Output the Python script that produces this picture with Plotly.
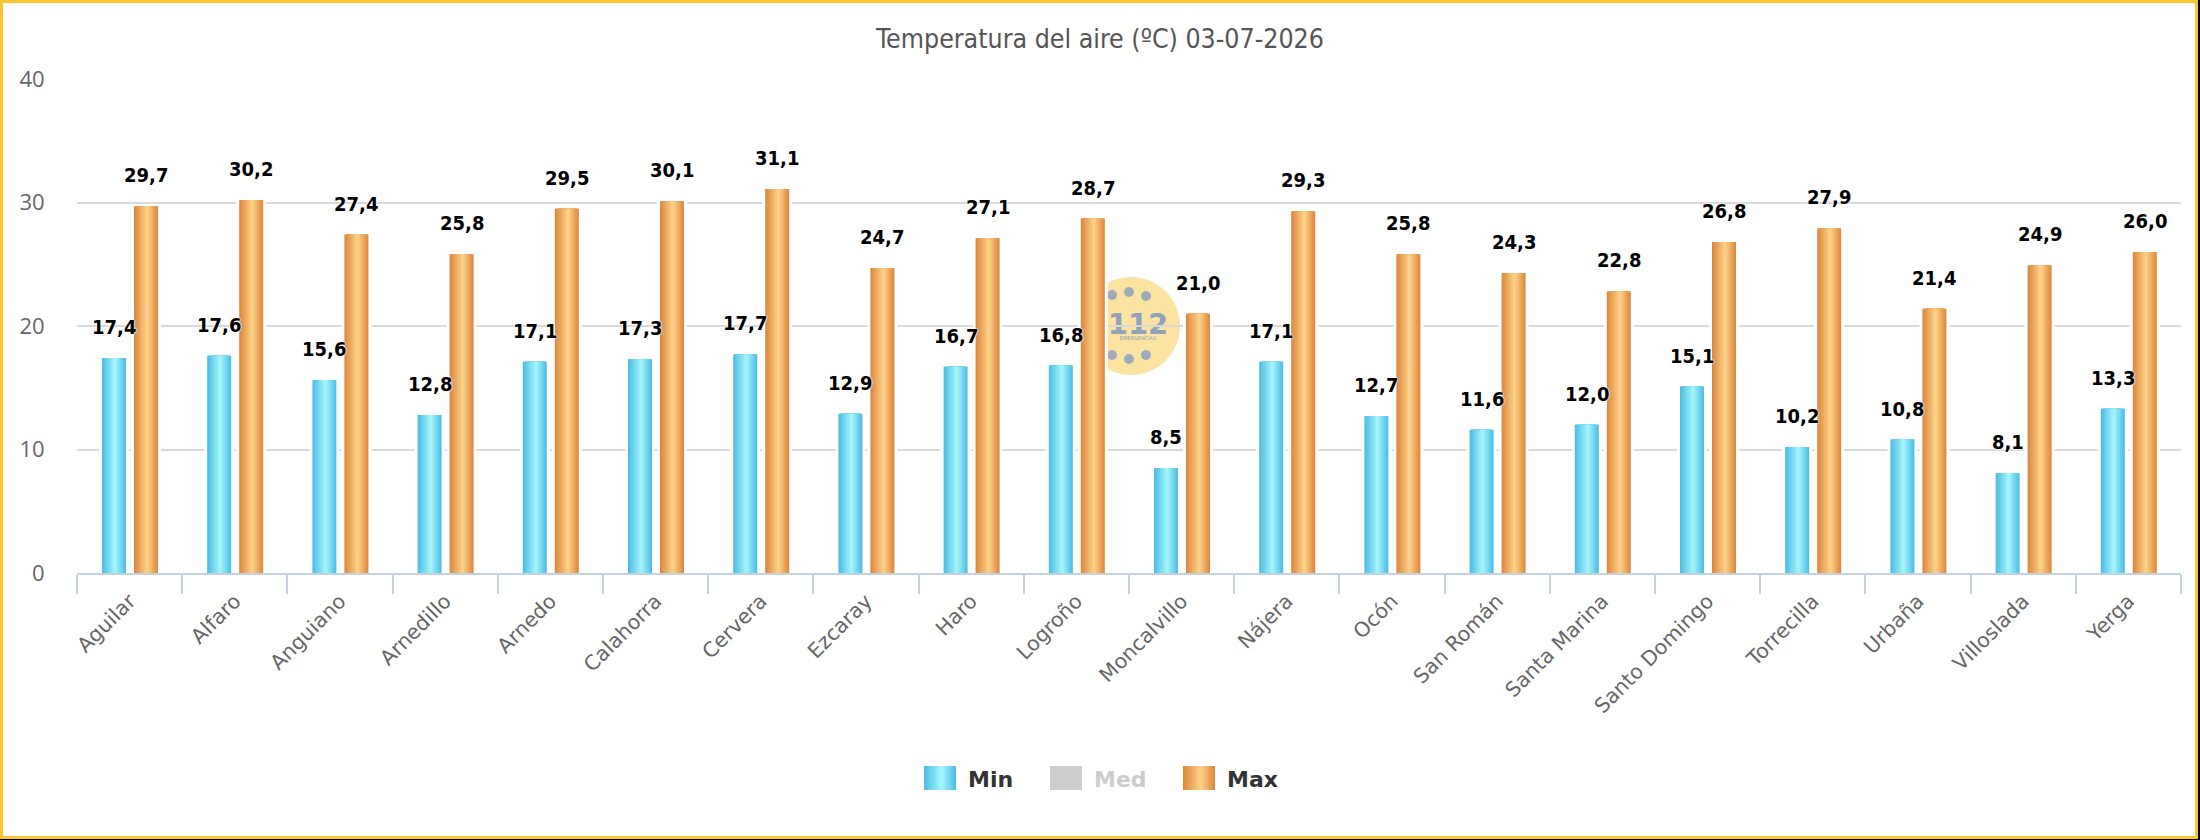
import base64
import plotly.graph_objects as go

# ---------------- data ----------------
categories = ["Aguilar", "Alfaro", "Anguiano", "Arnedillo", "Arnedo", "Calahorra",
              "Cervera", "Ezcaray", "Haro", "Logroño", "Moncalvillo", "Nájera",
              "Ocón", "San Román", "Santa Marina", "Santo Domingo", "Torrecilla",
              "Urbaña", "Villoslada", "Yerga"]
temp_min = [17.4, 17.6, 15.6, 12.8, 17.1, 17.3, 17.7, 12.9, 16.7, 16.8,
            8.5, 17.1, 12.7, 11.6, 12.0, 15.1, 10.2, 10.8, 8.1, 13.3]
temp_max = [29.7, 30.2, 27.4, 25.8, 29.5, 30.1, 31.1, 24.7, 27.1, 28.7,
            21.0, 29.3, 25.8, 24.3, 22.8, 26.8, 27.9, 21.4, 24.9, 26.0]
y_ticks = [0, 10, 20, 30, 40]
series_names = ["Min", "Med", "Max"]
title_text = "Temperatura del aire (ºC) 03-07-2026"

# ---------------- geometry / style ----------------
W, H = 2200, 840
ML, MR, MT, MB = 77, 19, 78, 267
PW, PH = W - ML - MR, H - MT - MB
CAT_PX = PW / len(categories)

MIN_EDGE, MIN_LIGHT = (76, 190, 228), (170, 248, 252)
MAX_EDGE, MAX_LIGHT = (222, 136, 62), (254, 214, 140)
MED_GREY = "#cccccc"


def px_x(px):
    return (px - ML) / PW


def px_y(py):
    return (H - MB - py) / PH


def mix(c1, c2, f):
    return "rgb(%d,%d,%d)" % tuple(round(a + (b - a) * f) for a, b in zip(c1, c2))


BAR_W = 24 / CAT_PX
OFF_MIN = -27.6 / CAT_PX
OFF_MAX = 4.4 / CAT_PX
PEAK = 0.55
NLAYER = 14

fig = go.Figure()


def add_series(values, offset, edge, light):
    halo = 3 / CAT_PX
    fig.add_trace(go.Bar(x=categories, y=values, offset=offset - halo, width=BAR_W + 2 * halo,
                         marker=dict(color="white", line=dict(width=0)),
                         hoverinfo="skip", showlegend=False))
    for k in range(NLAYER):
        f = k / NLAYER
        left = offset + PEAK * BAR_W * f
        width = BAR_W * (1 - f)
        fig.add_trace(go.Bar(x=categories, y=values, offset=left, width=width,
                             marker=dict(color=mix(edge, light, f), line=dict(width=0)),
                             hoverinfo="skip", showlegend=False))


add_series(temp_min, OFF_MIN, MIN_EDGE, MIN_LIGHT)
add_series(temp_max, OFF_MAX, MAX_EDGE, MAX_LIGHT)

# data labels
label_font = dict(family="DejaVu Sans Condensed, DejaVu Sans", size=20, color="#000000",
                  weight="bold",
                  shadow="0 0 2px #fff, 0 0 2px #fff, 0 0 2px #fff")
annotations = []
for cat, vmin, vmax in zip(categories, temp_min, temp_max):
    for v, shift in ((vmin, (OFF_MIN + BAR_W / 2) * CAT_PX), (vmax, (OFF_MAX + BAR_W / 2) * CAT_PX)):
        annotations.append(dict(x=cat, y=v, xref="x", yref="y", text=f"{v:.1f}".replace(".", ","),
                                showarrow=False, xshift=shift, yshift=17, yanchor="bottom",
                                xanchor="center", font=label_font))

# ---------------- legend (manual) ----------------
shapes = []
legend_items = [
    ("Min", 924, MIN_EDGE, MIN_LIGHT, "#333333"),
    ("Med", 1050, None, None, "#cccccc"),
    ("Max", 1183, MAX_EDGE, MAX_LIGHT, "#333333"),
]
for name, x0, edge, light, tcol in legend_items:
    y0, y1 = 766, 790
    if edge is None:
        shapes.append(dict(type="rect", xref="paper", yref="paper", x0=px_x(x0), x1=px_x(x0 + 32),
                           y0=px_y(y1), y1=px_y(y0), fillcolor=MED_GREY, line=dict(width=0)))
    else:
        for k in range(NLAYER):
            f = k / NLAYER
            l = x0 + PEAK * 32 * f
            r = l + 32 * (1 - f)
            shapes.append(dict(type="rect", xref="paper", yref="paper", x0=px_x(l), x1=px_x(r),
                               y0=px_y(y1), y1=px_y(y0), fillcolor=mix(edge, light, f),
                               line=dict(width=0)))
    annotations.append(dict(xref="paper", yref="paper", x=px_x(x0 + 42), y=px_y(779), text=name,
                            showarrow=False, xanchor="left", yanchor="middle",
                            font=dict(family="DejaVu Sans", size=22, color=tcol, weight="bold")))

# ---------------- frame ----------------
YEL = "#fbc530"
for (a, b, c, d, col) in [
    (0, 0, 3, 839, YEL), (0, 0, 2198, 3, YEL), (2195, 0, 2198, 839, YEL), (0, 836, 2198, 839, YEL),
    (2198, 0, 2200, 840, "#000000"), (0, 839, 2200, 840, "#000000")]:
    shapes.append(dict(type="rect", xref="paper", yref="paper", x0=px_x(a), x1=px_x(c),
                       y0=px_y(d), y1=px_y(b), fillcolor=col, line=dict(width=0), layer="above"))

# ---------------- watermark (112 logo) ----------------
svg = """<svg xmlns='http://www.w3.org/2000/svg' width='98' height='98' viewBox='0 0 98 98'>
<circle cx='49' cy='49' r='49' fill='#fce3a2'/>
<g fill='#9dabbb'>
<circle cx='30' cy='18' r='5'/><circle cx='47' cy='15' r='5'/><circle cx='64' cy='19' r='5'/>
<circle cx='30' cy='78' r='5'/><circle cx='47' cy='82' r='5'/><circle cx='64' cy='78' r='5'/>
</g>
<text x='56' y='57' text-anchor='middle' font-family='DejaVu Sans' font-weight='bold' font-size='29' fill='#8fa2b7'>112</text>
<text x='56' y='63' text-anchor='middle' font-family='DejaVu Sans' font-size='5' fill='#8fa2b7'>EMERGENCIAS</text>
</svg>"""
svg_uri = "data:image/svg+xml;base64," + base64.b64encode(svg.encode("utf-8")).decode("ascii")
images = [dict(source=svg_uri, xref="paper", yref="paper", x=px_x(1082), y=px_y(277),
               sizex=98 / PW, sizey=98 / PH, xanchor="left", yanchor="top",
               sizing="stretch", layer="below")]

fig.update_layout(
    width=W, height=H,
    margin=dict(l=ML, r=MR, t=MT, b=MB, pad=0),
    paper_bgcolor="white", plot_bgcolor="white",
    barmode="overlay",
    showlegend=False,
    title=dict(text=title_text, x=0.5, xref="container", xanchor="center",
               y=1 - 39 / H, yref="container", yanchor="middle",
               font=dict(family="DejaVu Sans Condensed, DejaVu Sans", size=26.5, color="#555555")),
    xaxis=dict(type="category", showgrid=False, showline=True, linecolor="#c3d2e2", linewidth=2,
               ticks="outside", tickson="boundaries", ticklen=19, tickwidth=2, tickcolor="#c3d2e2",
               tickangle=-45, ticklabelstandoff=6,
               tickfont=dict(family="DejaVu Sans", size=20.5, color="#666666"),
               fixedrange=True),
    yaxis=dict(range=[0, PH / 12.35], tickvals=y_ticks, ticktext=[str(t) for t in y_ticks],
               showgrid=True, gridcolor="#d9d9d9", gridwidth=2, zeroline=False, showline=False,
               ticks="outside", ticklen=27, tickcolor="rgba(0,0,0,0)",
               tickfont=dict(family="Open Sans", size=22, color="#666666"), fixedrange=True),
    annotations=annotations,
    shapes=shapes,
    images=images,
)

fig.write_html("out.html", config={"displayModeBar": False})
